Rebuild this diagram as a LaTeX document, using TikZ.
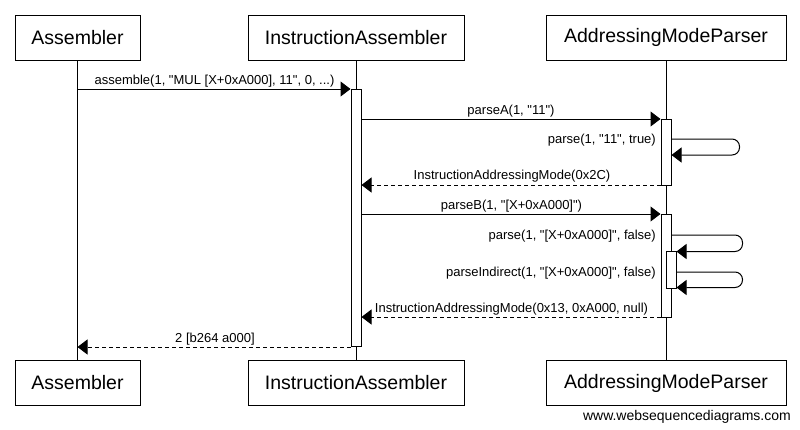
\documentclass[tikz,border=0pt]{standalone}
\usepackage{fontspec}
\setmainfont{Liberation Sans}[Ligatures=TeXOff]
\usetikzlibrary{arrows.meta}
\begin{document}
\begin{tikzpicture}[x=1pt,y=-1pt,
 actor/.style={draw, line width=1pt, minimum height=45pt, inner sep=0pt, font=\fontsize{19.5}{23}\selectfont},
 act/.style={draw, fill=white, line width=1pt, minimum width=10pt, inner sep=0pt},
 life/.style={line width=1pt},
 msg/.style={line width=1pt, -{Triangle[length=10pt,width=15pt]}},
 ret/.style={msg, dash pattern=on 4pt off 3pt},
 lbl/.style={font=\fontsize{13}{15}\selectfont, inner sep=0pt, anchor=base},
 slbl/.style={lbl, anchor=base east},
 loop/.style={msg, rounded corners=7.5pt},
]
\useasboundingbox (0,0) rectangle (800,429);
% actors
\node[actor, minimum width=125pt] (A) at (77.5,37.5) {Assembler};
\node[actor, minimum width=216pt] (I) at (356,37.5) {InstructionAssembler};
\node[actor, minimum width=240pt] (P) at (666,37.5) {AddressingModeParser};
\node[actor, minimum width=125pt] (Ab) at (77.5,383) {Assembler};
\node[actor, minimum width=216pt] (Ib) at (356,383) {InstructionAssembler};
\node[actor, minimum width=240pt] (Pb) at (666,383) {AddressingModeParser};
% lifelines
\draw[life] (A.south) -- (Ab.north);
\draw[life] (I.south) -- (Ib.north);
\draw[life] (P.south) -- (Pb.north);
% activations
\node[act, minimum height=257pt] (Iact) at (356,217.5) {};
\node[act, minimum height=66pt] (Pact1) at (666,152) {};
\node[act, minimum height=103pt] (Pact2) at (666,265.5) {};
\node[act, minimum height=36.5pt] (Pact3) at (671,269.75) {};
% message rows
\coordinate (m1) at (0,89);
\coordinate (m2) at (0,119);
\coordinate (m3) at (0,139);
\coordinate (m4) at (0,185);
\coordinate (m5) at (0,214);
\coordinate (m6) at (0,235);
\coordinate (m7) at (0,272);
\coordinate (m8) at (0,317);
\coordinate (m9) at (0,347);
% messages
\draw[msg] (A.south |- m1) -- (Iact.west |- m1);
\node[lbl] (l1) at (214.5,84) {assemble(1, "MUL [X+0xA000], 11", 0, ...)};
\draw[msg] (Iact.east |- m2) -- (Pact1.west |- m2);
\node[lbl] (l2) at (511,114) {parseA(1, "11")};
\draw[loop] (Pact1.east |- m3) -- ++(68,0) -- ++(0,16) -- (Pact1.east |- 0,155);
\node[slbl] (l3) at (656,143.5) {parse(1, "11", true)};
\draw[ret] (Pact1.west |- m4) -- (Iact.east |- m4);
\node[lbl] (l4) at (512,179.5) {InstructionAddressingMode(0x2C)};
\draw[msg] (Iact.east |- m5) -- (Pact2.west |- m5);
\node[lbl] (l5) at (511.5,209) {parseB(1, "[X+0xA000]")};
\draw[loop] (Pact2.east |- m6) -- ++(71,0) -- ++(0,16.5) -- (Pact3.east |- 0,251.5);
\node[slbl] (l6) at (656,239.5) {parse(1, "[X+0xA000]", false)};
\draw[loop] (Pact3.east |- m7) -- ++(66,0) -- ++(0,15.5) -- (Pact3.east |- 0,287.5);
\node[slbl] (l7) at (656,276.5) {parseIndirect(1, "[X+0xA000]", false)};
\draw[ret] (Pact2.west |- m8) -- (Iact.east |- m8);
\node[lbl] (l8) at (511.5,312.5) {InstructionAddressingMode(0x13, 0xA000, null)};
\draw[ret] (Iact.west |- m9) -- (A.south |- m9);
\node[lbl] (l9) at (215,342) {2 [b264 a000]};
% watermark
\node[anchor=base east, inner sep=0pt, font=\fontsize{14}{16}\selectfont] (wm) at (791,420) {www.websequencediagrams.com};
\end{tikzpicture}
\end{document}
